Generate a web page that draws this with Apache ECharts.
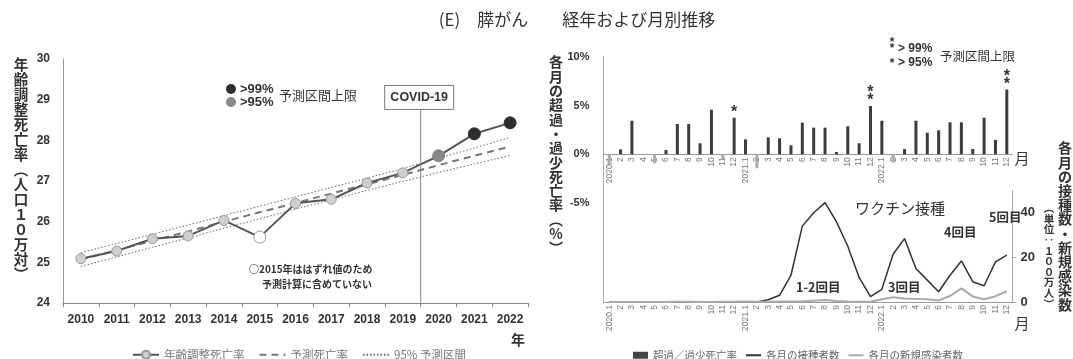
<!DOCTYPE html>
<html>
<head>
<meta charset="utf-8">
<script src="https://cdn.jsdelivr.net/npm/echarts@6/dist/echarts.min.js"></script>
<style>
  html, body { margin: 0; padding: 0; background: #fff; }
  #c { width: 1073px; height: 359px; }
</style>
</head>
<body>
<div id="c"></div>
<script>
// ---- yearly age-adjusted mortality (per 100k) ----
const years = ['2010','2011','2012','2013','2014','2015','2016','2017','2018','2019','2020','2021','2022'];
const ageAdjRate = [25.09, 25.28, 25.58, 25.65, 26.03, 25.62, 26.45, 26.55, 26.95, 27.20, 27.62, 28.16, 28.43];
// '' = normal, 'outlier' = excluded from the fit, 'p95' / 'p99' = above the upper prediction bound
const rateFlag = ['', '', '', '', '', 'outlier', '', '', '', '', 'p95', 'p99', 'p99'];
const predictedRate = [25.07, 25.30, 25.53, 25.76, 26.00, 26.23, 26.46, 26.69, 26.92, 27.15, 27.39, 27.62, 27.85];
const upper95 = [25.24, 25.46, 25.69, 25.92, 26.15, 26.38, 26.61, 26.84, 27.07, 27.31, 27.56, 27.81, 28.07];
const lower95 = [24.90, 25.13, 25.37, 25.60, 25.84, 26.07, 26.31, 26.54, 26.77, 26.99, 27.21, 27.42, 27.63];
const yearTicks = { min: 24, max: 30, interval: 1 };

// ---- monthly series, 2020.1 - 2022.12 ----
const monthLabels = [
  '2020.1','2','3','4','5','6','7','8','9','10','11','12',
  '2021.1','2','3','4','5','6','7','8','9','10','11','12',
  '2022.1','2','3','4','5','6','7','8','9','10','11','12'
];
// excess / deficit mortality (%)
const excess = [
  -1.10, 0.51, 3.44, 0.00, -0.92, 0.44, 3.10, 3.10, 1.13, 4.57, -0.58, 3.75,
   1.53, -1.43, 1.74, 1.64, 0.92, 3.24, 2.73, 2.73, 0.24, 2.87, 1.13, 4.95,
   3.44, -0.85, 0.54, 3.44, 2.21, 2.46, 3.28, 3.28, 0.54, 3.75, 1.47, 6.64
];
const excessMarks = [
  '', '', '', '', '', '', '', '', '', '', '', '*',
  '', '', '', '', '', '', '', '', '', '', '', '**',
  '', '', '', '', '', '', '', '', '', '', '', '**'
];
const excessTicks = { min: -5, max: 10, interval: 5 };
// vaccinations per month (millions)
const vaccinated = [
  0, 0, 0, 0, 0, 0, 0, 0, 0, 0, 0, 0,
  0, 0, 1, 3, 12, 34, 40, 44.5, 36, 25, 11, 2.4,
  5.7, 21.5, 28.4, 15, 9.8, 4.6, 12, 18.4, 9.1, 7.3, 18, 21
];
// new infections per month (millions)
const infected = [
  0, 0, 0, 0, 0, 0, 0.1, 0.1, 0, 0, 0.1, 0.1,
  0.2, 0.1, 0.1, 0.2, 0.2, 0.3, 0.6, 0.9, 0.5, 0.2, 0.1, 0.1,
  1.2, 2.1, 1.6, 1.4, 1.2, 0.7, 2.7, 6.1, 2.5, 1.2, 2.6, 4.8
];

const JP = '"Noto Sans CJK JP", "Noto Sans", sans-serif';
const NUM = '"Liberation Sans", Arial, "Noto Sans CJK JP", sans-serif';
const vertical = s => Array.from(s).join('\n');

const chart = echarts.init(document.getElementById('c'), null, { renderer: 'canvas' });

const flagStyle = {
  '':        { color: '#cfcfcf', borderColor: '#999', borderWidth: 1 },
  'outlier': { color: '#ffffff', borderColor: '#999', borderWidth: 1 },
  'p95':     { color: '#888888', borderColor: '#888', borderWidth: 1 },
  'p99':     { color: '#2e2e2e', borderColor: '#2e2e2e', borderWidth: 1 }
};
const flagSize = { '': 10, 'outlier': 12, 'p95': 12, 'p99': 12 };

const rateData = ageAdjRate.map((v, i) => ({
  value: v,
  symbolSize: flagSize[rateFlag[i]],
  itemStyle: flagStyle[rateFlag[i]]
}));

const monthAxisLabel = {
  rotate: 90, interval: 0, fontSize: 8.5, color: '#777', fontFamily: NUM, margin: 3
};

// the monthly bar panel; its category axis runs along the 0% line
const barGrid = { left: 603.5, right: 60.5, top: 56.7, height: 146.4, outerBoundsMode: 'none' };
const zeroOffset = -barGrid.height * (0 - excessTicks.min) / (excessTicks.max - excessTicks.min);

// legend entries for plain lines: keep the line, hide the point symbol
const noSymbol = { color: 'rgba(0,0,0,0)', borderColor: 'rgba(0,0,0,0)', borderWidth: 0, opacity: 0 };

chart.setOption({
  animation: false,
  backgroundColor: '#fff',
  grid: [
    { left: 63, right: 545, top: 59, bottom: 56, outerBoundsMode: 'none' },
    barGrid,
    { left: 603.5, right: 60.5, top: 190.4, bottom: 57, outerBoundsMode: 'none' }
  ],
  xAxis: [
    {
      gridIndex: 0, type: 'category', data: years, boundaryGap: true,
      axisLine: { lineStyle: { color: '#888', width: 1 } },
      axisTick: { show: true, length: 4, lineStyle: { color: '#888' } },
      axisLabel: { interval: 0, fontSize: 12, fontWeight: 'bold', color: '#333', fontFamily: NUM, margin: 11 }
    },
    {
      gridIndex: 1, type: 'category', data: monthLabels, boundaryGap: true,
      offset: zeroOffset,
      axisLine: { onZero: false, lineStyle: { color: '#999' } },
      axisTick: { show: false },
      axisLabel: monthAxisLabel
    },
    {
      gridIndex: 2, type: 'category', data: monthLabels, boundaryGap: true,
      axisLine: { lineStyle: { color: '#999' } },
      axisTick: { show: false },
      axisLabel: monthAxisLabel
    }
  ],
  yAxis: [
    {
      gridIndex: 0, type: 'value', min: yearTicks.min, max: yearTicks.max, interval: yearTicks.interval,
      axisLine: { show: true, lineStyle: { color: '#999' } },
      axisTick: { show: false },
      splitLine: { show: false },
      axisLabel: { fontSize: 12, fontWeight: 'bold', color: '#333', fontFamily: NUM, margin: 13 }
    },
    {
      gridIndex: 1, type: 'value', min: excessTicks.min, max: excessTicks.max, interval: excessTicks.interval,
      axisLine: { show: true, lineStyle: { color: '#aaa' } },
      axisTick: { show: false },
      splitLine: { show: false },
      axisLabel: { formatter: '{value}%', fontSize: 11, fontWeight: 'bold', color: '#333', fontFamily: NUM, margin: 14 }
    },
    {
      gridIndex: 2, type: 'value', position: 'right', min: 0, max: 50, interval: 20,
      axisLine: { show: true, lineStyle: { color: '#aaa' } },
      axisTick: { show: true, length: 4, lineStyle: { color: '#aaa' } },
      splitLine: { show: false },
      axisLabel: { showMaxLabel: false, fontSize: 13, fontWeight: 'bold', color: '#333', fontFamily: NUM, margin: 8 }
    },
    {
      gridIndex: 2, type: 'value', position: 'left', min: 0, max: 50,
      axisLine: { show: true, lineStyle: { color: '#aaa' } },
      axisTick: { show: false }, axisLabel: { show: false }, splitLine: { show: false }
    }
  ],
  legend: [
    {
      data: [
        { name: '年齢調整死亡率' },
        { name: '予測死亡率', itemStyle: noSymbol },
        { name: '95% 予測区間', itemStyle: noSymbol }
      ],
      left: 127, top: 344, itemWidth: 26, itemHeight: 10, itemGap: 14,
      textStyle: { fontFamily: JP, fontSize: 11.5, color: '#777' }
    },
    {
      data: [
        { name: '超過／過少死亡率', icon: 'rect', itemStyle: { color: '#444' } },
        { name: '各月の接種者数', itemStyle: noSymbol },
        { name: '各月の新規感染者数', itemStyle: noSymbol }
      ],
      left: 628, top: 345, itemWidth: 15, itemHeight: 7, itemGap: 8,
      textStyle: { fontFamily: JP, fontSize: 10.5, color: '#666' }
    }
  ],
  series: [
    {
      name: '95% 予測区間', type: 'line', xAxisIndex: 0, yAxisIndex: 0, data: upper95,
      symbol: 'none', lineStyle: { color: '#666', width: 1, type: [1.5, 2] }, itemStyle: { color: '#666' }
    },
    {
      name: '95% 予測区間', type: 'line', xAxisIndex: 0, yAxisIndex: 0, data: lower95,
      symbol: 'none', lineStyle: { color: '#666', width: 1, type: [1.5, 2] }, itemStyle: { color: '#666' }
    },
    {
      name: '予測死亡率', type: 'line', xAxisIndex: 0, yAxisIndex: 0, data: predictedRate,
      symbol: 'none', lineStyle: { color: '#777', width: 2, type: [7, 5] }, itemStyle: { color: '#777' }
    },
    {
      name: '年齢調整死亡率', type: 'line', xAxisIndex: 0, yAxisIndex: 0, data: rateData,
      symbol: 'circle', symbolSize: 10,
      lineStyle: { color: '#555', width: 2 },
      itemStyle: { color: '#cfcfcf', borderColor: '#999', borderWidth: 1 },
      z: 5
    },
    {
      name: '超過／過少死亡率', type: 'bar', xAxisIndex: 1, yAxisIndex: 1, data: excess,
      barWidth: 3,
      itemStyle: { color: p => (p.value < 0 ? '#aaaaaa' : '#3c3c3c') },
      label: {
        show: true, position: 'top', distance: 1,
        formatter: p => (excessMarks[p.dataIndex] || '').split('').join('\n'),
        fontSize: 16, lineHeight: 8, color: '#333', fontFamily: NUM, fontWeight: 'bold'
      }
    },
    {
      name: '各月の接種者数', type: 'line', xAxisIndex: 2, yAxisIndex: 2, data: vaccinated,
      symbol: 'none', lineStyle: { color: '#333', width: 1.5 }, itemStyle: { color: '#333' }
    },
    {
      name: '各月の新規感染者数', type: 'line', xAxisIndex: 2, yAxisIndex: 2, data: infected,
      symbol: 'none', lineStyle: { color: '#aaa', width: 2 }, itemStyle: { color: '#aaa' }
    }
  ]
});

// COVID-19 marker sits on the boundary between 2019 and 2020
const covidX = (chart.convertToPixel({ xAxisIndex: 0 }, '2019') + chart.convertToPixel({ xAxisIndex: 0 }, '2020')) / 2;
const covidTop = chart.convertToPixel({ yAxisIndex: 0 }, 28.76);
const covidBottom = chart.convertToPixel({ yAxisIndex: 0 }, yearTicks.min);

function txt(x, y, text, o) {
  return {
    type: 'text', x: x, y: y, silent: true, z: 50,
    style: Object.assign({
      text: text, fill: '#333', fontFamily: JP, fontSize: 12,
      align: 'left', verticalAlign: 'middle'
    }, o || {})
  };
}

chart.setOption({
  graphic: [
    // title
    txt(577, 20, '(E)　膵がん　　経年および月別推移', { align: 'center', fontSize: 17, fill: '#333' }),

    // left chart: axis title and unit
    txt(21, 57, vertical('年齢調整死亡率︵人口１０万対︶'), { align: 'center', verticalAlign: 'top', fontSize: 14.5, lineHeight: 15, fontWeight: 'bold' }),
    txt(518, 340, '年', { align: 'center', fontSize: 14, fontWeight: 'bold' }),

    // left chart: marker key
    { type: 'circle', shape: { cx: 231, cy: 89, r: 5 }, style: { fill: '#2e2e2e' }, silent: true, z: 50 },
    { type: 'circle', shape: { cx: 231, cy: 102, r: 5 }, style: { fill: '#888' }, silent: true, z: 50 },
    txt(240, 89, '>99%', { fontFamily: NUM, fontSize: 13, fontWeight: 'bold' }),
    txt(240, 102, '>95%', { fontFamily: NUM, fontSize: 13, fontWeight: 'bold' }),
    txt(279, 95, '予測区間上限', { fontSize: 13 }),

    // left chart: note on 2015
    txt(249, 269, '○2015年ははずれ値のため', { fontSize: 10, fontWeight: 'bold' }),
    txt(262, 284, '予測計算に含めていない', { fontSize: 10, fontWeight: 'bold' }),

    // left chart: COVID-19 marker
    { type: 'line', shape: { x1: covidX, y1: covidTop, x2: covidX, y2: covidBottom }, style: { stroke: '#888', lineWidth: 1 }, silent: true, z: 40 },
    { type: 'rect', shape: { x: covidX - 36, y: covidTop - 24, width: 69, height: 24 }, style: { fill: '#fff', stroke: '#777', lineWidth: 1 }, silent: true, z: 45 },
    txt(covidX - 1.5, covidTop - 12, 'COVID-19', { align: 'center', fontFamily: NUM, fontSize: 12.5, fontWeight: 'bold' }),

    // right chart: axis titles
    txt(556, 55, vertical('各月の超過・過少死亡率︵%︶'), { align: 'center', verticalAlign: 'top', fontSize: 14, lineHeight: 14.3, fontWeight: 'bold' }),
    txt(1065, 141, vertical('各月の接種数・新規感染数'), { align: 'center', verticalAlign: 'top', fontSize: 14, lineHeight: 14.2, fontWeight: 'bold' }),
    txt(1049, 203, vertical('︵単位‥１００万人︶'), { align: 'center', verticalAlign: 'top', fontSize: 10.5, lineHeight: 10.6, fontWeight: 'bold' }),
    txt(1022, 158, '月', { align: 'center', fontSize: 15 }),
    txt(1022, 323, '月', { align: 'center', fontSize: 15 }),

    // right chart: significance key
    txt(892, 46, '*\n*', { align: 'center', fontFamily: NUM, fontSize: 12, lineHeight: 6, fontWeight: 'bold' }),
    txt(898, 49, '> 99%', { fontFamily: NUM, fontSize: 12, fontWeight: 'bold' }),
    txt(892, 64, '*', { align: 'center', fontFamily: NUM, fontSize: 12, fontWeight: 'bold' }),
    txt(898, 63, '> 95%', { fontFamily: NUM, fontSize: 12, fontWeight: 'bold' }),
    txt(940, 56, '予測区間上限', { fontSize: 12.5 }),

    // right chart: vaccination notes
    txt(855, 208, 'ワクチン接種', { fontSize: 15 }),
    txt(796, 287, '1-2回目', { fontSize: 12.5, fontWeight: 'bold' }),
    txt(888, 287, '3回目', { fontSize: 12.5, fontWeight: 'bold' }),
    txt(944, 232, '4回目', { fontSize: 12.5, fontWeight: 'bold' }),
    txt(989, 217, '5回目', { fontSize: 12.5, fontWeight: 'bold' })
  ]
});
</script>
</body>
</html>
